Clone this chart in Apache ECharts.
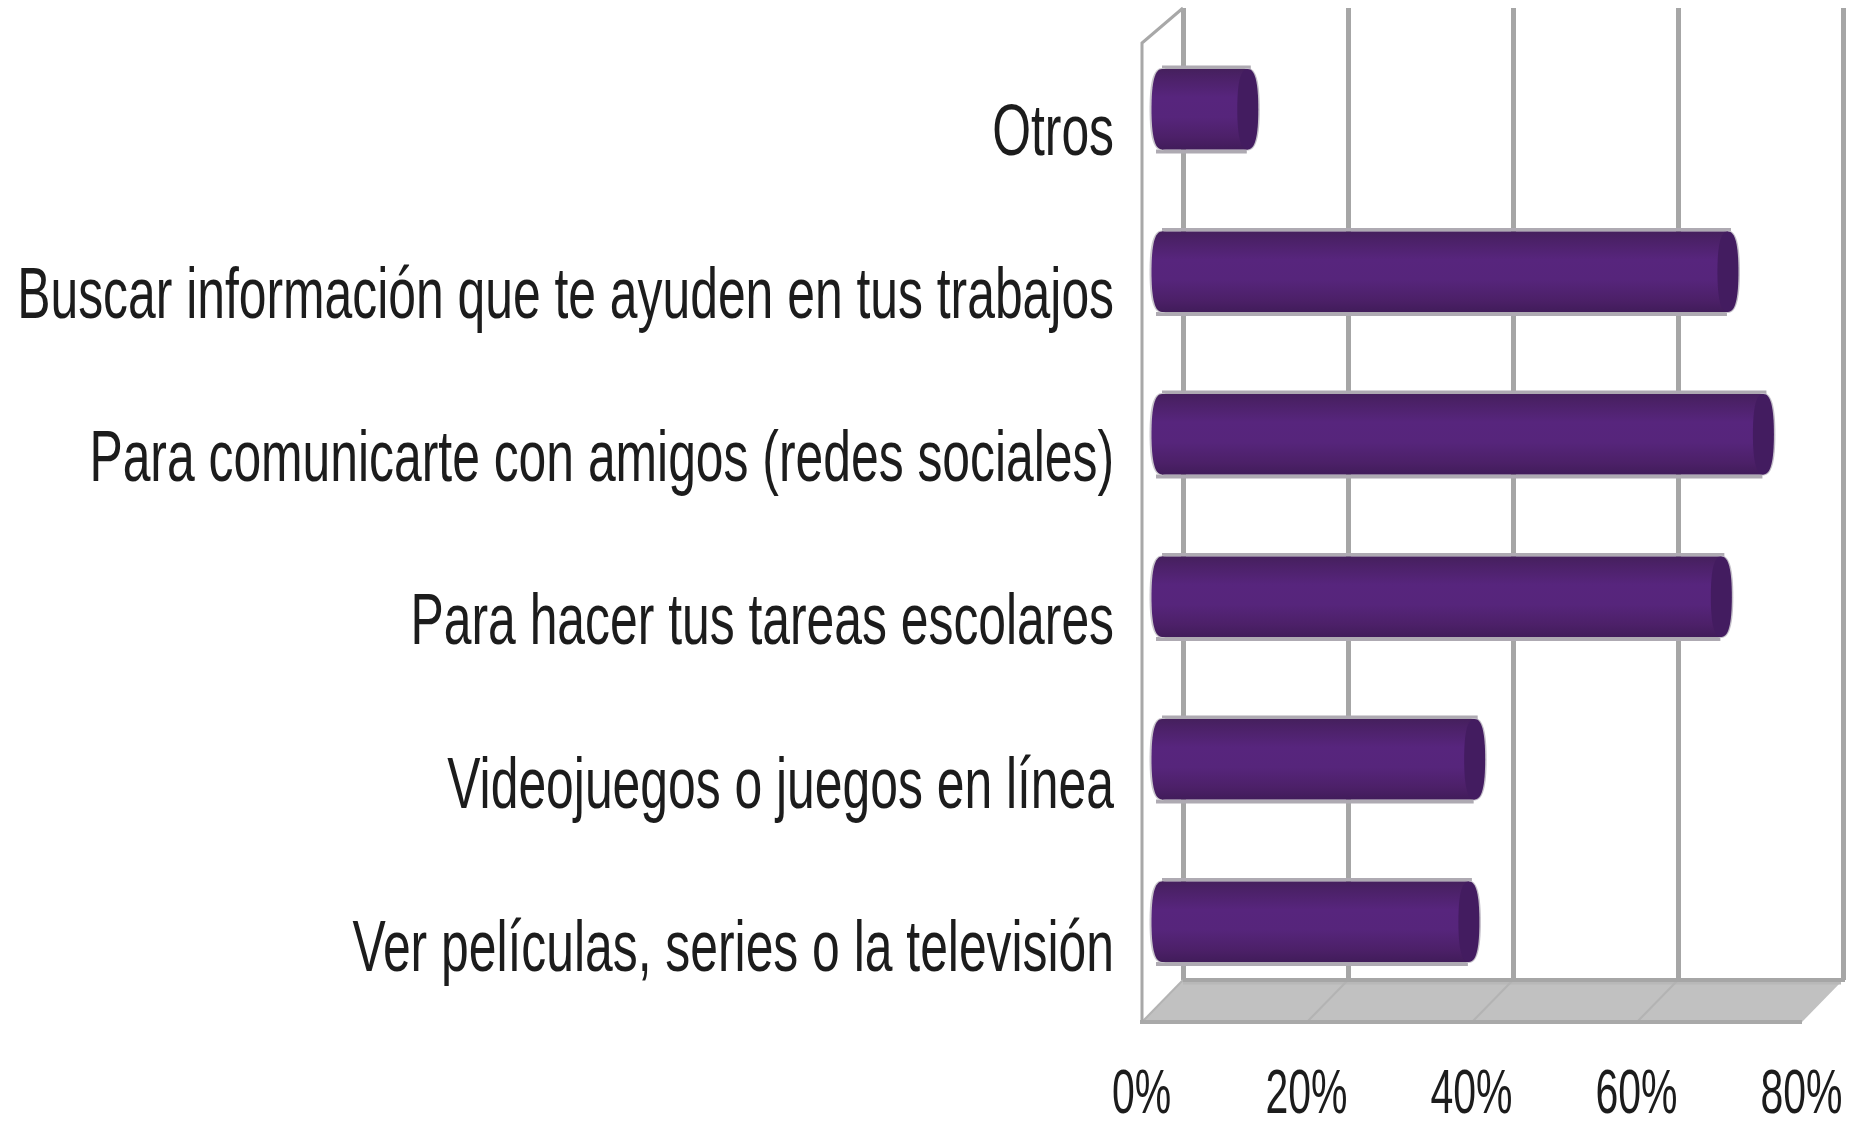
<!DOCTYPE html>
<html><head><meta charset="utf-8">
<style>html,body{margin:0;padding:0;background:#fff}#c{width:1863px;height:1121px}</style>
<script src="https://cdn.jsdelivr.net/npm/echarts@6/dist/echarts.min.js"></script></head>
<body><div id="c"></div>
<script>
var categories = ['Ver películas, series o la televisión','Videojuegos o juegos en línea','Para hacer tus tareas escolares','Para comunicarte con amigos (redes sociales)','Buscar información que te ayuden en tus trabajos','Otros'];
var values = [37.2, 37.9, 67.8, 72.9, 68.6, 10.4];
var tickValues = [0, 20, 40, 60, 80];
var FONT = '"Liberation Sans", Arial, sans-serif';
var TEXT = '#1c1c1c';
var chart = echarts.init(document.getElementById('c'), null, {renderer:'canvas'});

function frameItem(params, api){
  var cs = params.coordSys, L = cs.x, R = cs.x+cs.width, T = cs.y, B = cs.y+cs.height;
  var dx = 41, dyF = -42, dyT = -35;
  var kids = [{type:'polygon', shape:{points:[[L,B],[R,B],[R+dx,B+dyF],[L+dx,B+dyF]]}, style:{fill:'#c1c1c1'}}];
  kids.push({type:'line', shape:{x1:L+dx,y1:B+dyF+3,x2:R+dx-2,y2:B+dyF+3}, style:{stroke:'#b8b8b8',lineWidth:3}});
  tickValues.forEach(function(t){
    var p = api.coord([t,0]);
    if(t<80) kids.push({type:'line', shape:{x1:p[0],y1:B,x2:p[0]+dx,y2:B+dyF}, style:{stroke:'#b3b3b3',lineWidth:2}});
  });
  kids.push({type:'line', shape:{x1:L-2,y1:B,x2:R,y2:B}, style:{stroke:'#a9a9a9',lineWidth:4}});
  kids.push({type:'line', shape:{x1:L+dx,y1:B+dyF,x2:R+dx+2,y2:B+dyF}, style:{stroke:'#a6a6a6',lineWidth:4}});
  kids.push({type:'polyline', shape:{points:[[L,B],[L,T],[L+dx,T+dyT]]}, style:{stroke:'#a8a8a8',lineWidth:3,fill:null}});
  return {type:'group', children:kids};
}

function ellipsePath(cx, cy, rx, ry, k){
  return 'M'+cx+' '+(cy-ry)+
   ' C'+(cx+rx*k)+' '+(cy-ry)+' '+(cx+rx)+' '+(cy-ry*k)+' '+(cx+rx)+' '+cy+
   ' C'+(cx+rx)+' '+(cy+ry*k)+' '+(cx+rx*k)+' '+(cy+ry)+' '+cx+' '+(cy+ry)+
   ' C'+(cx-rx*k)+' '+(cy+ry)+' '+(cx-rx)+' '+(cy+ry*k)+' '+(cx-rx)+' '+cy+
   ' C'+(cx-rx)+' '+(cy-ry*k)+' '+(cx-rx*k)+' '+(cy-ry)+' '+cx+' '+(cy-ry)+' Z';
}

function barItem(params, api){
  var v = api.value(0), c = api.value(1);
  var s = api.coord([0, c]), e = api.coord([v, c]);
  var h = api.size([0,1])[1] * 0.495, rx = 10.5, k = 0.68;
  var cy = s[1], y0 = cy-h/2, y1 = cy+h/2;
  var grad = new echarts.graphic.LinearGradient(0,0,0,1,[
    {offset:0,color:'#45205d'},{offset:0.1,color:'#4b2167'},{offset:0.35,color:'#57257d'},{offset:0.6,color:'#56257b'},{offset:0.85,color:'#4c2068'},{offset:1,color:'#411c5a'}]);
  return {type:'group', children:[
    {type:'rect', shape:{x:s[0],y:y0-3.5,width:e[0]-s[0]+3,height:3.5}, style:{fill:'#aeaab2'}},
    {type:'rect', shape:{x:s[0]-6,y:y1,width:e[0]-s[0]+5,height:4}, style:{fill:'#aeaab2'}},
    {type:'path', shape:{pathData:ellipsePath(s[0],cy,rx+2,h/2+1,k)}, style:{fill:'#c9c6cc'}},
    {type:'path', shape:{pathData:ellipsePath(e[0],cy,rx+1.5,h/2+1,k)}, style:{fill:'#c4bfc9'}},
    {type:'path', shape:{pathData:ellipsePath(s[0],cy,rx,h/2,k)}, style:{fill:grad}},
    {type:'rect', shape:{x:s[0],y:y0,width:e[0]-s[0],height:h}, style:{fill:grad}},
    {type:'path', shape:{pathData:ellipsePath(e[0],cy,rx,h/2,k)}, style:{fill:'#431c60'}}
  ]};
}

function categoryLabel(params, api){
  var p = api.coord([0, api.value(0)]);
  return {type:'text', x:p[0]-28, y:p[1]+10.5, scaleX:0.692,
    style:{text:categories[api.value(0)],textAlign:'right',textVerticalAlign:'middle',fontFamily:FONT,fontSize:72,fill:TEXT}};
}
function tickLabel(params, api){
  var cs = params.coordSys, t = api.value(0), p = api.coord([t, 0]);
  return {type:'text', x:p[0]-0.5, y:cs.y+cs.height+74, scaleX:0.65,
    style:{text:t+'%',textAlign:'center',textVerticalAlign:'middle',fontFamily:FONT,fontSize:63,fill:TEXT}};
}

var hidden = {axisLine:{show:false},axisTick:{show:false},axisLabel:{show:false},splitLine:{show:false}};
chart.setOption({
  animation:false,
  backgroundColor:'#ffffff',
  grid:[
    {left:1142,top:43,width:660,height:979,outerBoundsMode:'none'},   // front plane
    {left:1183,top:8,width:660,height:972,outerBoundsMode:'none'},    // back plane
    {left:1162,top:28,width:660,height:975,outerBoundsMode:'none'}    // mid-depth plane: bars
  ],
  xAxis:[
    Object.assign({gridIndex:0,type:'value',min:0,max:80,interval:20},hidden),
    Object.assign({gridIndex:1,type:'value',min:0,max:80,interval:20},hidden,{splitLine:{show:true,lineStyle:{color:'#a6a6a6',width:5}}}),
    Object.assign({gridIndex:2,type:'value',min:0,max:80,interval:20},hidden)
  ],
  yAxis:[
    Object.assign({gridIndex:0,type:'category',data:categories},hidden),
    Object.assign({gridIndex:1,type:'category',data:categories},hidden),
    Object.assign({gridIndex:2,type:'category',data:categories},hidden)
  ],
  series:[
    {type:'custom',xAxisIndex:0,yAxisIndex:0,data:[[0]],renderItem:frameItem,silent:true,z:1,clip:false},
    {type:'custom',name:'Porcentaje',xAxisIndex:2,yAxisIndex:2,z:3,clip:false,
     data:values.map(function(v,i){return [v,i];}),encode:{x:0,y:1},renderItem:barItem},
    {type:'custom',xAxisIndex:0,yAxisIndex:0,z:4,clip:false,silent:true,
     data:categories.map(function(c,i){return [i];}),encode:{y:0},renderItem:categoryLabel},
    {type:'custom',xAxisIndex:0,yAxisIndex:0,z:4,clip:false,silent:true,
     data:tickValues.map(function(t){return [t];}),encode:{x:0},renderItem:tickLabel}
  ]
});
</script></body></html>
